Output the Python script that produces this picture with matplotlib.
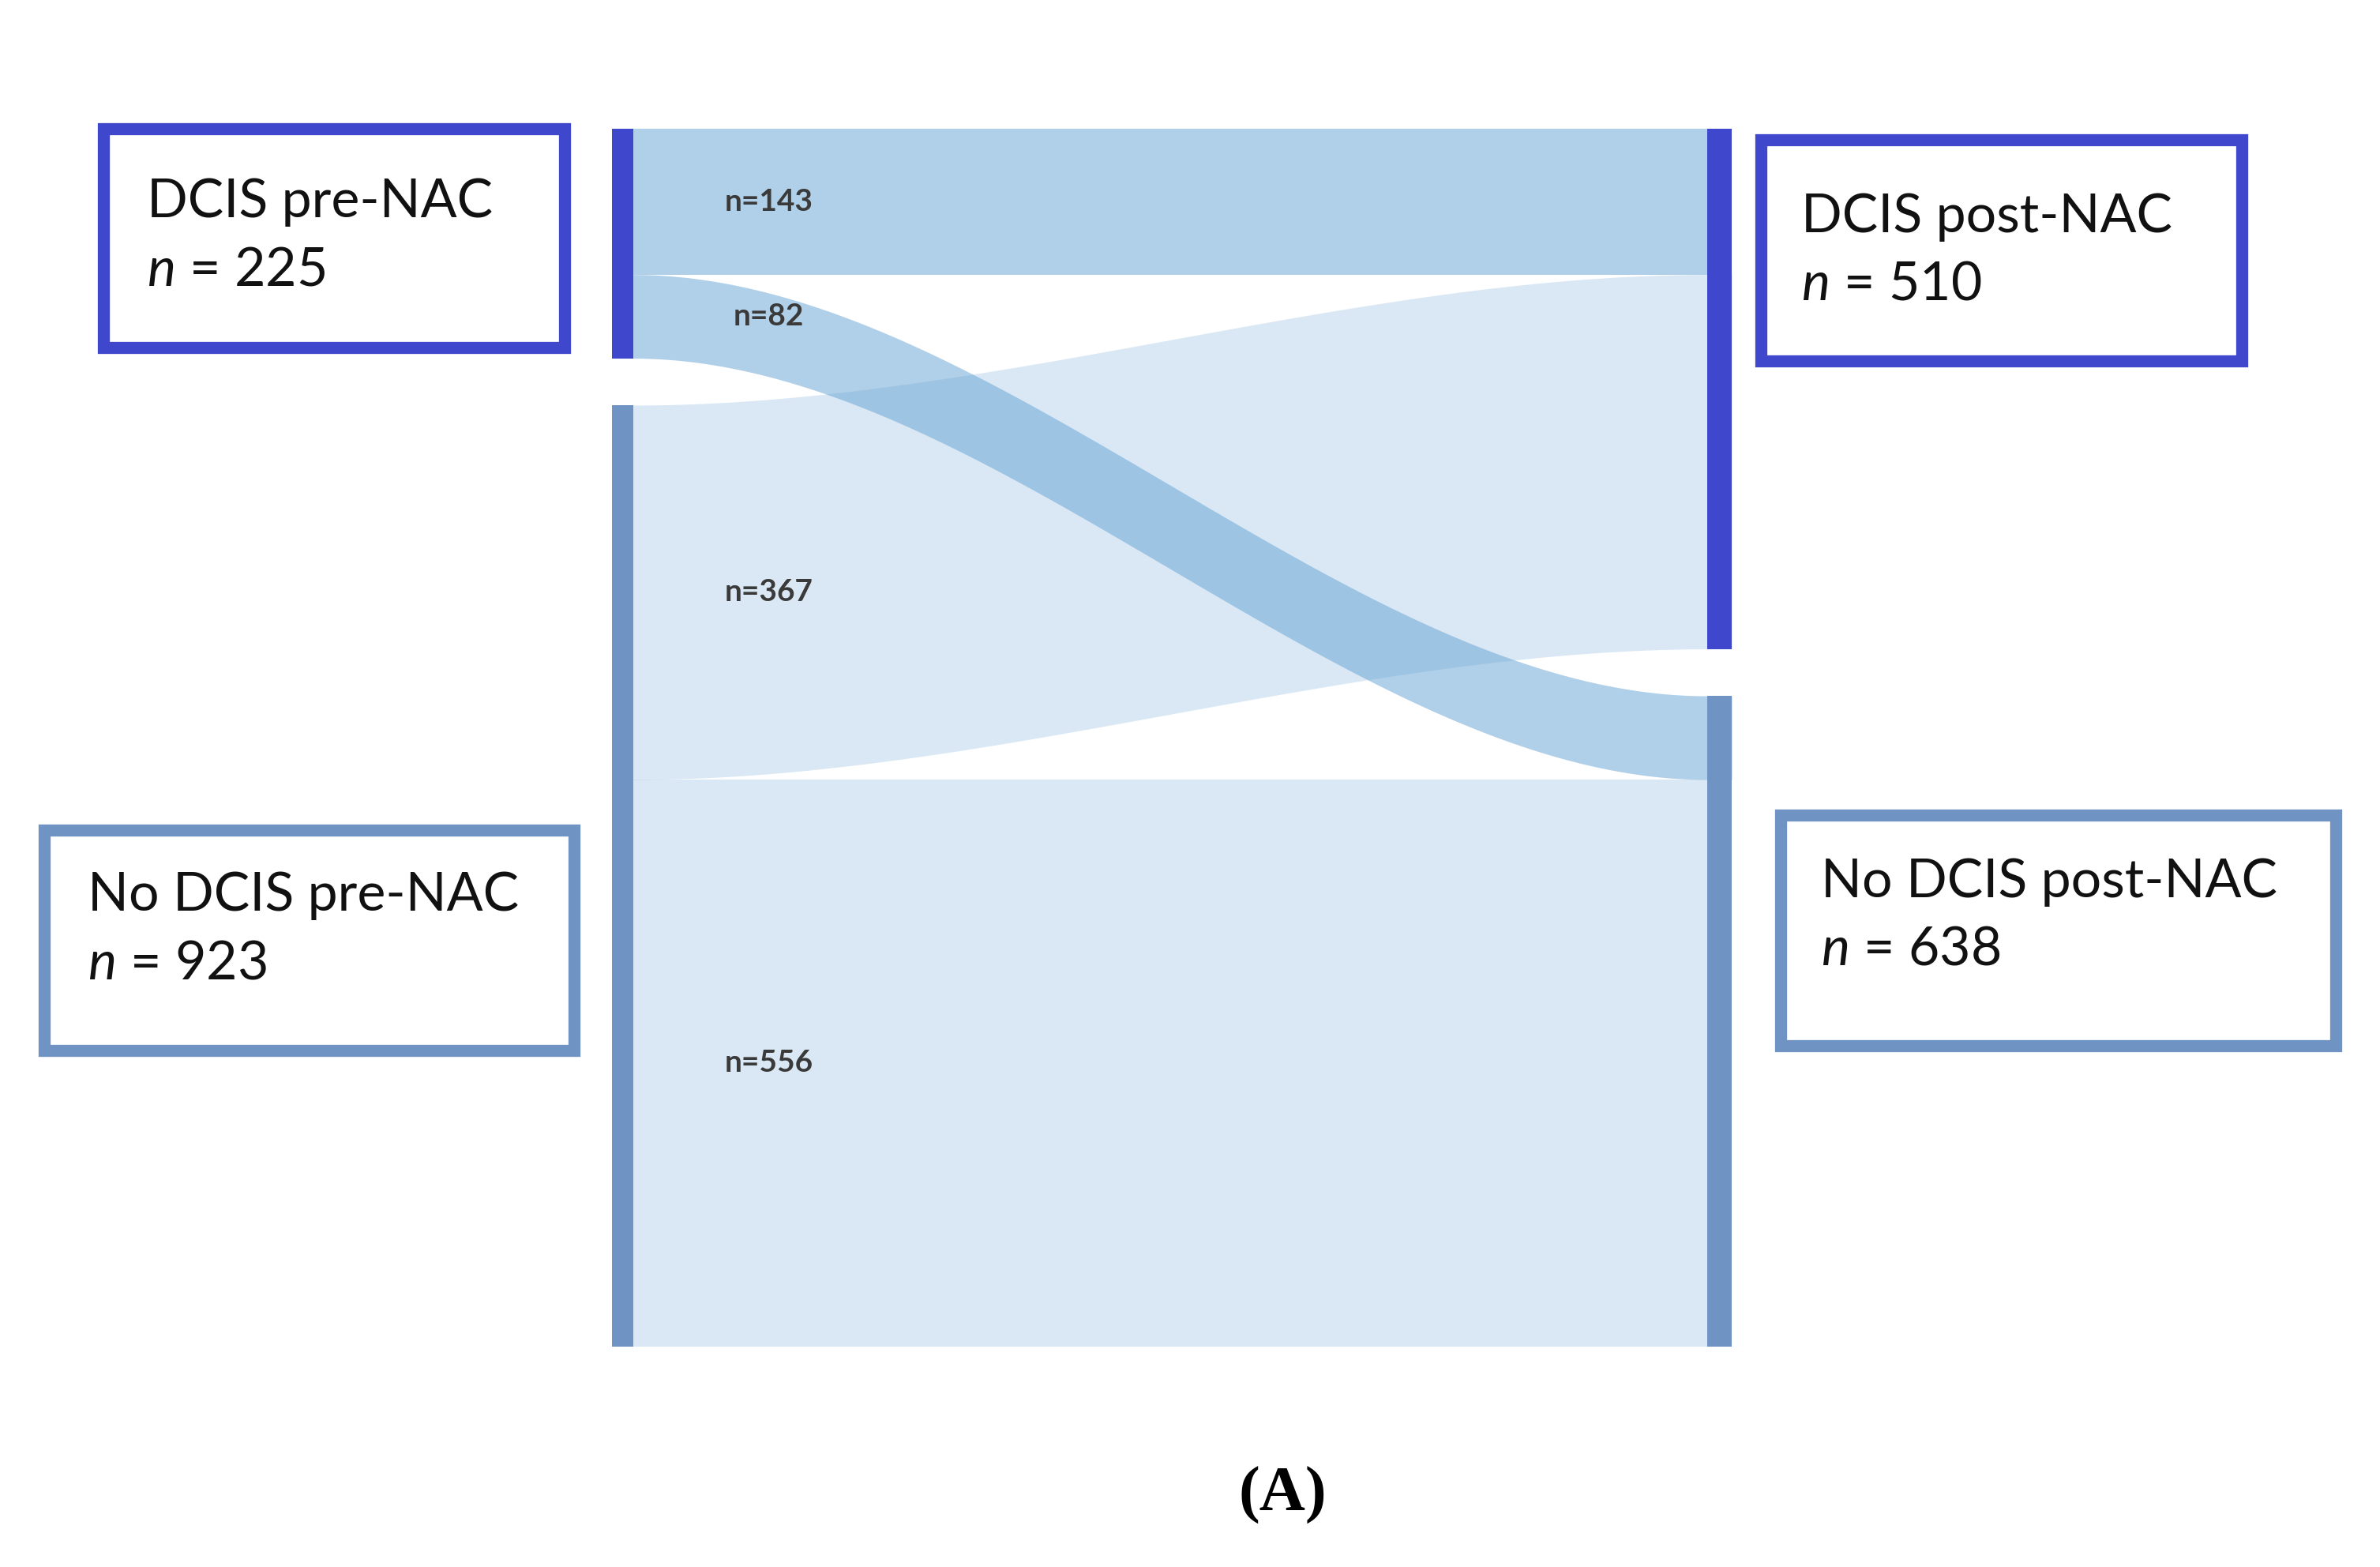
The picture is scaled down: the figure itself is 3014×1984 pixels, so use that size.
import numpy as np
import matplotlib
matplotlib.use("Agg")
import matplotlib.pyplot as plt
from matplotlib.patches import Rectangle

plt.rcParams['font.family'] = ['Lato', 'DejaVu Sans']
plt.rcParams['mathtext.fontset'] = 'custom'
plt.rcParams['mathtext.it'] = 'Lato:italic'
plt.rcParams['mathtext.rm'] = 'Lato'

# data
pre_nodes = ['DCIS pre-NAC', 'No DCIS pre-NAC']
post_nodes = ['DCIS post-NAC', 'No DCIS post-NAC']
pre_totals = [225, 923]
post_totals = [510, 638]
# flows[i][j] : pre node i -> post node j
flows = [[143, 82],
         [367, 556]]
flow_labels = [['n=143', 'n=82'], ['n=367', 'n=556']]

node_colors = ['#3f48cc', '#6f94c4']
flow_colors = ['#6fa8d6', '#6fa8d6']
flow_alpha = [0.55, 0.26]

gap = 46  # gap between nodes, in patients
total = sum(pre_totals) + gap

fig = plt.figure(figsize=(30.14, 19.84), dpi=100)
W, H = 3014, 1984

# sankey axes
x0, x1, y0, y1 = 775, 2193, 163, 1705
ax = fig.add_axes([x0 / W, 1 - y1 / H, (x1 - x0) / W, (y1 - y0) / H])
ax.set_xlim(0, 1)
ax.set_ylim(total, 0)
ax.axis('off')

bw_l = 27 / (x1 - x0)
bw_r = 31 / (x1 - x0)

pre_top = np.cumsum([0] + [t + gap for t in pre_totals])[:-1]
post_top = np.cumsum([0] + [t + gap for t in post_totals])[:-1]

# flows
xs = np.linspace(0, 1, 400)
t = np.clip((xs - bw_l) / (1 - bw_l - bw_r), 0, 1)
s = 3 * t ** 2 - 2 * t ** 3
out_off = list(pre_top)
in_off = list(post_top)
label_pos = []
for i in range(2):
    for j in range(2):
        v = flows[i][j]
        a = out_off[i]
        b = in_off[j]
        top = a + (b - a) * s
        ax.fill_between(xs, top, top + v, color=flow_colors[i], alpha=flow_alpha[i],
                        linewidth=0, zorder=1 + (1 - i))
        label_pos.append((a + v / 2, flow_labels[i][j]))
        out_off[i] += v
        in_off[j] += v

for yc, lab in label_pos:
    ax.text(0.14, yc, lab, ha='center', va='center', fontsize=28,
            fontweight='bold', color='#3a3a3a', zorder=5)

# nodes
for k in range(2):
    ax.bar(bw_l / 2, pre_totals[k], width=bw_l, bottom=pre_top[k],
           color=node_colors[k], zorder=4)
    ax.bar(1 - bw_r / 2, post_totals[k], width=bw_r, bottom=post_top[k],
           color=node_colors[k], zorder=4)

# overlay for boxes and caption, pixel coordinates
ov = fig.add_axes([0, 0, 1, 1], zorder=10)
ov.set_xlim(0, W)
ov.set_ylim(H, 0)
ov.axis('off')
ov.patch.set_alpha(0)

boxes = [
    (131, 163, 715, 440, 186, 256, 342, pre_nodes[0], pre_totals[0], node_colors[0]),
    (2230, 177, 2839, 457, 2281, 275, 361, post_nodes[0], post_totals[0], node_colors[0]),
    (56, 1051, 727, 1330, 111, 1134, 1220, pre_nodes[1], pre_totals[1], node_colors[1]),
    (2255, 1032, 2958, 1324, 2306, 1117, 1203, post_nodes[1], post_totals[1], node_colors[1]),
]
for bx0, by0, bx1, by1, tx, ty1, ty2, name, n, col in boxes:
    ov.add_patch(Rectangle((bx0, by0), bx1 - bx0, by1 - by0, fill=False,
                           edgecolor=col, linewidth=11, joinstyle='miter'))
    ov.text(tx, ty1, name, fontsize=49, va='center', ha='left', color='#111111')
    ov.text(tx, ty2, '$n$ = %d' % n, fontsize=49, va='center', ha='left', color='#111111')

ov.text(1624, 1893, '(A)', fontsize=58, fontweight='bold', ha='center', va='center',
        family='Liberation Serif')

fig.savefig('out.png', dpi=100, facecolor='white')
